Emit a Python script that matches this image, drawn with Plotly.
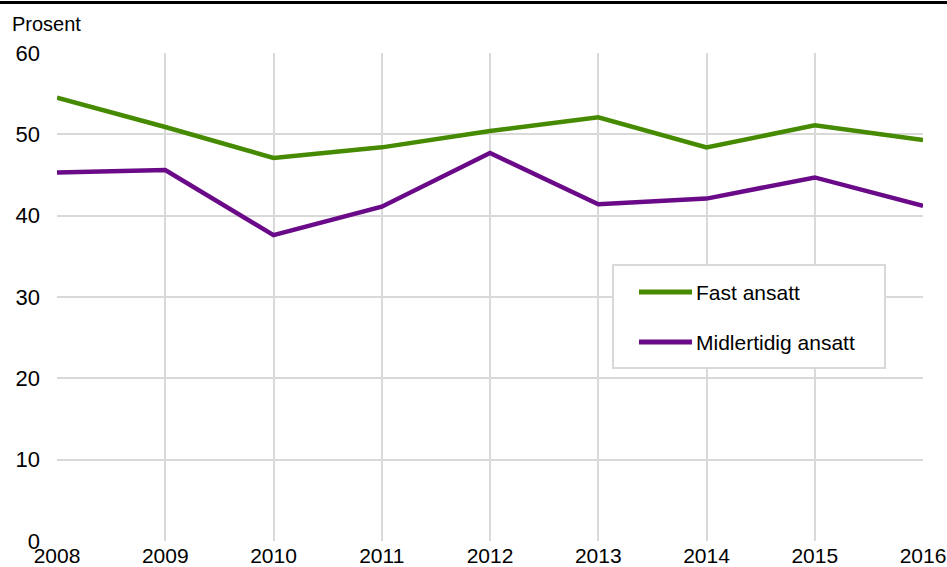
import plotly.graph_objects as go

years = [2008, 2009, 2010, 2011, 2012, 2013, 2014, 2015, 2016]
fast_ansatt = [54.5, 50.9, 47.1, 48.4, 50.4, 52.1, 48.4, 51.1, 49.3]
midlertidig_ansatt = [45.3, 45.6, 37.6, 41.1, 47.7, 41.4, 42.1, 44.7, 41.2]
y_ticks = [0, 10, 20, 30, 40, 50, 60]
series_names = ["Fast ansatt", "Midlertidig ansatt"]
series_colors = ["#468a00", "#6a0a88"]

FONT = "Liberation Sans, Arial, sans-serif"
GRID = "#d9d9d9"

W, H = 947, 567
L, R, T, B = 57, 24, 53, 26
PW, PH = W - L - R, H - T - B


def px(x):
    return (x - L) / PW


def py(y):
    return (H - B - y) / PH


fig = go.Figure()
for name, vals, col in zip(series_names, [fast_ansatt, midlertidig_ansatt], series_colors):
    fig.add_trace(go.Scatter(x=years, y=vals, mode="lines", name=name,
                             line=dict(color=col, width=4.5), showlegend=False))

shapes = [
    dict(type="line", xref="paper", yref="paper", x0=px(0), x1=px(W), y0=py(2.5), y1=py(2.5),
         line=dict(color="black", width=3)),
    dict(type="rect", xref="paper", yref="paper", x0=px(613), x1=px(885), y0=py(368), y1=py(265),
         line=dict(color=GRID, width=2), fillcolor="white", layer="above"),
]
annotations = [
    dict(text="Prosent", xref="paper", yref="paper", x=px(10), y=py(24),
         xanchor="left", yanchor="middle", showarrow=False, font=dict(size=20)),
]
for i, (name, col) in enumerate(zip(series_names, series_colors)):
    yy = 292 + 50 * i
    shapes.append(dict(type="line", xref="paper", yref="paper", x0=px(639), x1=px(692),
                       y0=py(yy), y1=py(yy), line=dict(color=col, width=5), layer="above"))
    annotations.append(dict(text=name, xref="paper", yref="paper", x=px(694), y=py(yy),
                            xanchor="left", yanchor="middle", showarrow=False,
                            font=dict(size=21)))

fig.update_layout(
    width=W, height=H,
    margin=dict(l=L, r=R, t=T, b=B, autoexpand=False),
    paper_bgcolor="white", plot_bgcolor="white",
    font=dict(family=FONT, size=21, color="#000000"),
    showlegend=False,
    xaxis=dict(range=[2008, 2016], tickvals=years, ticktext=[str(y) for y in years],
               showgrid=True, gridcolor=GRID, gridwidth=2, zeroline=False,
               showline=False, ticks="", tickfont=dict(size=21), ticklabelstandoff=0,
               automargin=False),
    yaxis=dict(range=[0, 60], tickvals=y_ticks, showgrid=True, gridcolor=GRID, gridwidth=2,
               zeroline=False, showline=False, ticks="", tickfont=dict(size=22),
               ticklabelstandoff=16, automargin=False),
    annotations=annotations,
    shapes=shapes,
)

fig.write_html("out.html", config={"displayModeBar": False},
               post_script="document.body.style.margin='0';document.body.style.padding='0';"
                           "document.body.style.overflow='hidden';")
